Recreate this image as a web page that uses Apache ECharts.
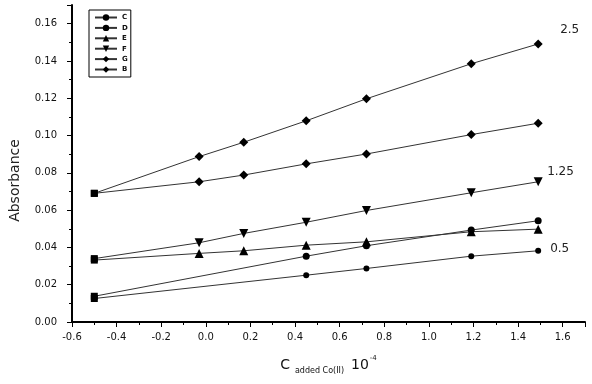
<!DOCTYPE html>
<html>
<head>
<meta charset="utf-8">
<script src="https://cdn.jsdelivr.net/npm/echarts@6/dist/echarts.min.js"></script>
<style>
  html, body { margin: 0; padding: 0; background: #fff; }
  #chart { width: 592px; height: 384px; }
</style>
</head>
<body>
<div id="chart"></div>
<script>
// x positions (C added Co(II), 10^-4)
const xFull = [-0.5, -0.03, 0.17, 0.45, 0.72, 1.19, 1.49]
const xShort = [-0.5, 0.45, 0.72, 1.19, 1.49]

// absorbance values
const valC = [0.0126, 0.0251, 0.0287, 0.0353, 0.0382]
const valD = [0.0138, 0.0353, 0.0409, 0.0493, 0.0543]
const valE = [0.0332, 0.0368, 0.0382, 0.0412, 0.0430, 0.0484, 0.0498]
const valF = [0.0340, 0.0425, 0.0475, 0.0535, 0.0598, 0.0693, 0.0752]
const valG = [0.0690, 0.0887, 0.0964, 0.1079, 0.1197, 0.1385, 0.1491]
const valB = [0.0690, 0.0752, 0.0788, 0.0848, 0.0901, 0.1005, 0.1066]

const seriesNames = ['C', 'D', 'E', 'F', 'G', 'B']
const groupLabels = { C: '0.5', F: '1.25', G: '2.5' }

const font = 'DejaVu Sans'
const ink = '#111'

const chart = echarts.init(document.getElementById('chart'))

// first point of every series is the blank, drawn as a square
const toData = (xs, ys) => xs.map((x, i) => i === 0
  ? { value: [x, ys[i]], symbol: 'rect', symbolSize: 7 }
  : [x, ys[i]])

const makeSeries = (name, xs, ys, symbol, size, rotate, labelOffset) => ({
  name,
  type: 'line',
  data: toData(xs, ys),
  symbol,
  symbolSize: size,
  symbolRotate: rotate,
  showAllSymbol: true,
  lineStyle: { color: '#333', width: 1 },
  itemStyle: { color: '#000' },
  endLabel: groupLabels[name] ? {
    show: true,
    formatter: () => groupLabels[name],
    distance: 0,
    offset: labelOffset,
    fontFamily: font,
    fontSize: 12,
    color: '#222'
  } : { show: false },
  z: 2
})

const option = {
  animation: false,
  backgroundColor: '#fff',
  grid: { left: 67, right: 7, top: 5, bottom: 62 },
  legend: {
    left: 89,
    top: 10,
    orient: 'vertical',
    itemWidth: 22,
    itemHeight: 8,
    itemGap: 3.4,
    padding: [4, 3, 4, 5],
    borderColor: '#000',
    borderWidth: 1,
    textStyle: { fontFamily: font, fontSize: 7, fontWeight: 'bold', color: ink, width: 11 },
    data: seriesNames
  },
  xAxis: {
    type: 'value',
    min: -0.6,
    max: 1.7,
    interval: 0.2,
    name: '{c|C}{sub|added Co(II)}{n|10}{sup|-4}',
    nameLocation: 'middle',
    nameGap: 33,
    nameTextStyle: {
      fontFamily: font,
      color: ink,
      rich: {
        c: { fontFamily: font, fontSize: 14, lineHeight: 20, color: ink, padding: [0, 5, 0, 0] },
        sub: { fontFamily: font, fontSize: 8, lineHeight: 8, verticalAlign: 'bottom', color: ink, padding: [0, 7, 0, 0] },
        n: { fontFamily: font, fontSize: 14, lineHeight: 20, color: ink },
        sup: { fontFamily: font, fontSize: 7, lineHeight: 7, verticalAlign: 'top', color: ink, padding: [0, 0, 0, 1] }
      }
    },
    axisLine: { lineStyle: { color: '#000', width: 2 } },
    axisTick: { length: 5, lineStyle: { color: '#000', width: 1 } },
    minorTick: { show: true, splitNumber: 2, length: 3, lineStyle: { color: '#000', width: 1 } },
    splitLine: { show: false },
    axisLabel: {
      margin: 10,
      fontFamily: font,
      fontSize: 10,
      color: ink,
      showMaxLabel: false,
      formatter: v => v.toFixed(1)
    }
  },
  yAxis: {
    type: 'value',
    min: 0,
    max: 0.17,
    interval: 0.02,
    name: 'Absorbance',
    nameLocation: 'middle',
    nameGap: 50,
    nameRotate: 90,
    nameTextStyle: { fontFamily: font, fontSize: 14, color: '#222', padding: [0, 34, 0, 0] },
    axisLine: { show: true, onZero: false, lineStyle: { color: '#000', width: 2 } },
    axisTick: { show: true, length: 5, lineStyle: { color: '#000', width: 1 } },
    minorTick: { show: true, splitNumber: 2, length: 3, lineStyle: { color: '#000', width: 1 } },
    splitLine: { show: false },
    axisLabel: {
      margin: 15,
      fontFamily: font,
      fontSize: 10,
      color: ink,
      showMaxLabel: false,
      formatter: v => v.toFixed(2)
    }
  },
  series: [
    makeSeries('C', xShort, valC, 'circle', 6, 0, [12, -2]),
    makeSeries('D', xShort, valD, 'circle', 7, 0),
    makeSeries('E', xFull, valE, 'triangle', 9, 0),
    makeSeries('F', xFull, valF, 'triangle', 9, 180, [9, -10]),
    makeSeries('G', xFull, valG, 'diamond', 9, 0, [22, -14]),
    makeSeries('B', xFull, valB, 'diamond', 9, 0)
  ]
}

chart.setOption(option)
</script>
</body>
</html>
